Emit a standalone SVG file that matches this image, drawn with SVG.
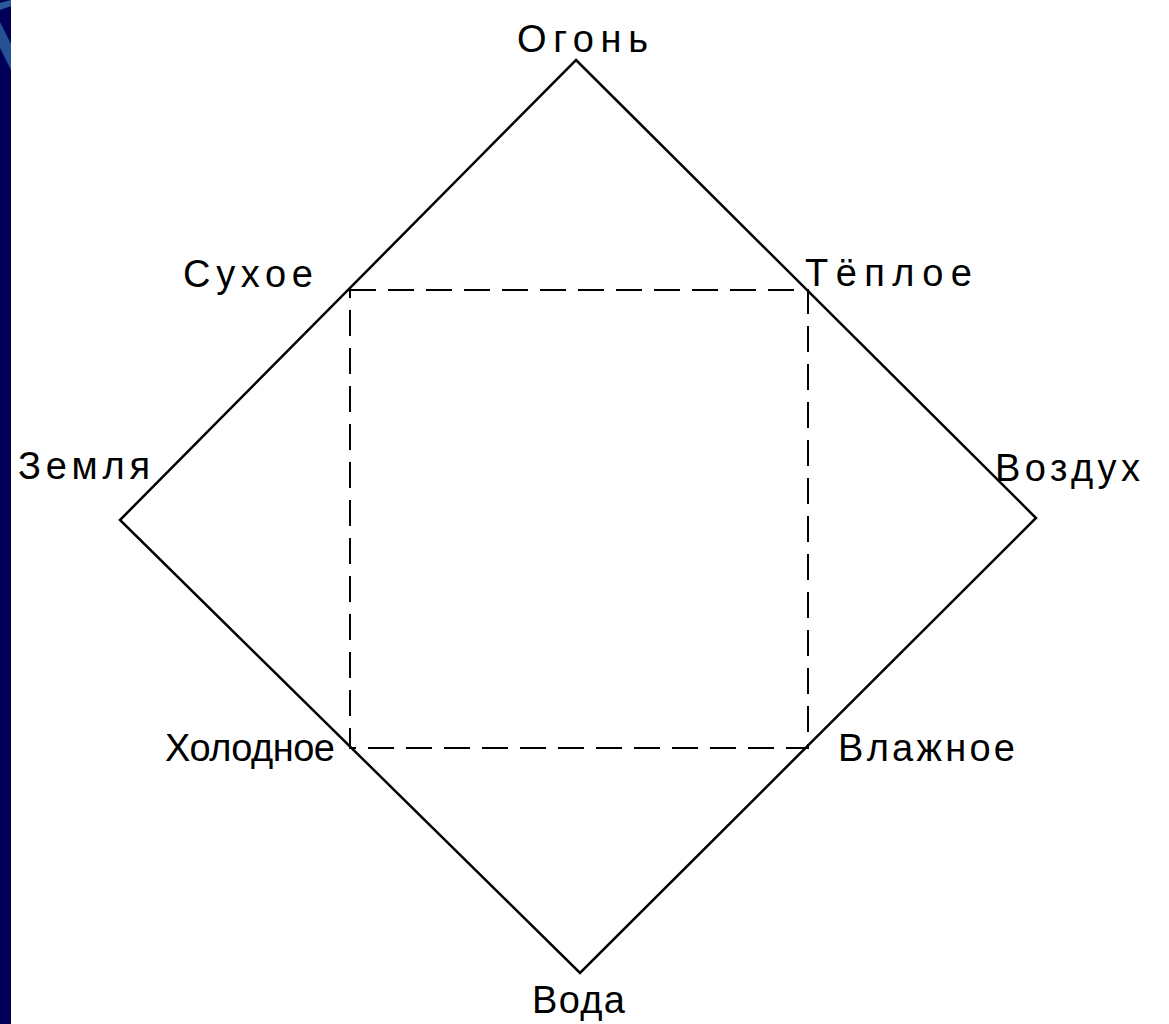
<svg xmlns="http://www.w3.org/2000/svg" width="1169" height="1024" viewBox="0 0 1169 1024">
<style>
.lbl{font-family:"Liberation Sans","DejaVu Sans",sans-serif;font-size:38px;fill:#000}
.edge{stroke:#000;stroke-width:2.5;fill:none}
.dash{stroke:#000;stroke-width:2;fill:none;stroke-dasharray:26 12}
</style>
<rect width="1169" height="1024" fill="#ffffff"/>
<g id="band">
<rect x="0" y="0" width="11" height="1024" fill="#000058"/>
<path d="M0 3 L11 0 L11 6 L0 10 Z" fill="#2a5a9c"/>
<path d="M0 22 L11 44 L11 70 L0 48 Z" fill="#2a5a9c" opacity="0.9"/>
</g>
<g id="connectors">
<path class="edge" d="M576 60 L1036 518 L580 973 L120 520 Z"/>
<path class="dash" d="M350 290 H808 V748 H350 Z"/>
</g>
<g id="n-fire"><text class="lbl" x="517" y="52" font-size="44" textLength="131" lengthAdjust="spacing">Огонь</text></g>
<g id="n-dry"><text class="lbl" x="183" y="287" textLength="130" lengthAdjust="spacing">Сухое</text></g>
<g id="n-warm"><text class="lbl" x="805" y="286" textLength="167" lengthAdjust="spacing">Тёплое</text></g>
<g id="n-earth"><text class="lbl" x="18" y="479" textLength="132" lengthAdjust="spacing">Земля</text></g>
<g id="n-air"><text class="lbl" x="995" y="481" textLength="145" lengthAdjust="spacing">Воздух</text></g>
<g id="n-cold"><text class="lbl" x="165" y="761" textLength="170" lengthAdjust="spacing">Холодное</text></g>
<g id="n-wet"><text class="lbl" x="838" y="761" textLength="177" lengthAdjust="spacing">Влажное</text></g>
<g id="n-water"><text class="lbl" x="532" y="1013" font-size="44" textLength="93" lengthAdjust="spacing">Вода</text></g>
</svg>
